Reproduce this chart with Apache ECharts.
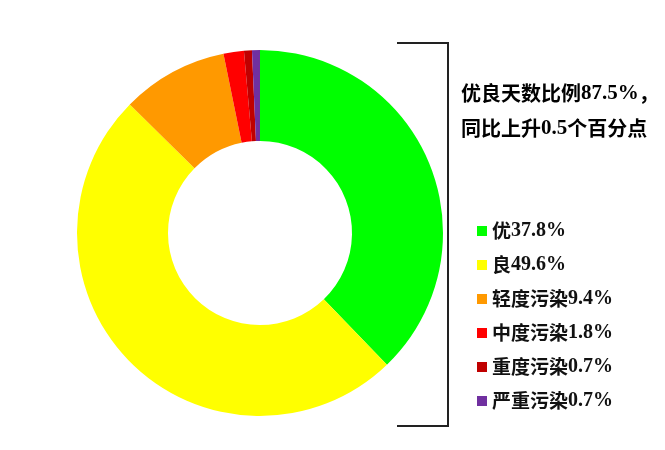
<!DOCTYPE html>
<html>
<head>
<meta charset="utf-8">
<script src="https://cdn.jsdelivr.net/npm/echarts@6/dist/echarts.min.js"></script>
<style>html,body{margin:0;padding:0;background:#fff}#c{width:665px;height:450px}</style>
</head>
<body>
<div id="c"></div>
<script>
const categories = ['优', '良', '轻度污染', '中度污染', '重度污染', '严重污染'];
const values = [37.8, 49.6, 9.4, 1.8, 0.7, 0.7];
const colors = ['#00FF00', '#FFFF00', '#FF9900', '#FF0000', '#C00000', '#7030A0'];
const noteLine1 = ['优良天数比例', '87.5%', '，'];
const noteLine2 = ['同比上升', '0.5', '个百分点'];

const cjk = '"Noto Sans CJK SC", sans-serif';
const serif = '"Liberation Serif", "Times New Roman", serif';
const legendRich = {
  a: { fontFamily: cjk, fontSize: 19, fontWeight: 'bold', color: '#111', lineHeight: 20 },
  b: { fontFamily: serif, fontSize: 20, fontWeight: 'bold', color: '#111', lineHeight: 20 }
};
const noteRich = {
  a: { fontFamily: cjk, fontSize: 20, fontWeight: 'bold', color: '#111', lineHeight: 22 },
  b: { fontFamily: serif, fontSize: 21, fontWeight: 'bold', color: '#111', lineHeight: 22 }
};

const chart = echarts.init(document.getElementById('c'));
chart.setOption({
  animation: false,
  color: colors,
  legend: {
    orient: 'vertical',
    left: 472,
    top: 216,
    icon: 'rect',
    itemWidth: 10,
    itemHeight: 10,
    itemGap: 14,
    selectedMode: false,
    textStyle: { rich: legendRich, lineHeight: 20, padding: [0, 0, 0, 0] },
    formatter: function (name) {
      const i = categories.indexOf(name);
      return '{a|' + name + '}{b|' + values[i] + '%}';
    },
    data: categories
  },
  graphic: [
    {
      type: 'polyline',
      shape: { points: [[397, 43], [448, 43], [448, 426], [397, 426]] },
      style: { stroke: '#222', lineWidth: 2, fill: null }
    },
    {
      type: 'text', left: 461, top: 83,
      style: {
        text: '{a|' + noteLine1[0] + '}{b|' + noteLine1[1] + '}{a|' + noteLine1[2] + '}',
        rich: noteRich
      }
    },
    {
      type: 'text', left: 461, top: 118,
      style: {
        text: '{a|' + noteLine2[0] + '}{b|' + noteLine2[1] + '}{a|' + noteLine2[2] + '}',
        rich: noteRich
      }
    }
  ],
  series: [{
    type: 'pie',
    center: [260, 233],
    radius: [92, 183],
    startAngle: 90,
    clockwise: true,
    label: { show: false },
    labelLine: { show: false },
    emphasis: { disabled: true },
    itemStyle: { borderWidth: 0 },
    data: categories.map((n, i) => ({ name: n, value: values[i] }))
  }]
});
</script>
</body>
</html>
